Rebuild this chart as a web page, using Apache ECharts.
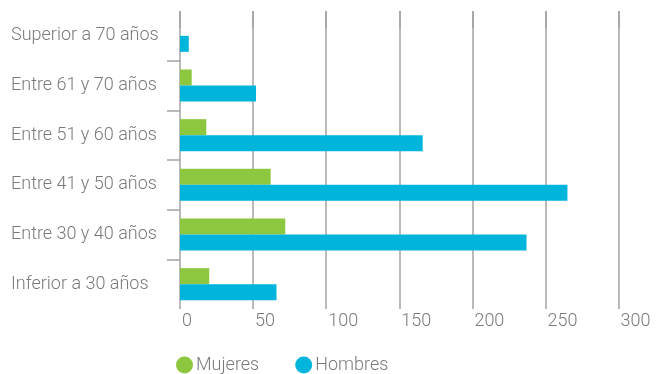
<!DOCTYPE html>
<html>
<head>
<meta charset="utf-8">
<script src="https://cdn.jsdelivr.net/npm/echarts@6/dist/echarts.min.js"></script>
<style>
  html, body { margin: 0; padding: 0; background: #fff; }
  #chart { width: 657px; height: 374px; }
</style>
</head>
<body>
<div id="chart"></div>
<script>
// Age bands, top to bottom
const categories = [
  'Superior a 70 años',
  'Entre 61 y 70 años',
  'Entre 51 y 60 años',
  'Entre 41 y 50 años',
  'Entre 30 y 40 años',
  'Inferior a 30 años'
];
const mujeres = [0, 8, 18, 62, 72, 20];
const hombres = [6, 52, 166, 265, 237, 66];
const xTicks = [0, 50, 100, 150, 200, 250, 300];
const seriesNames = ['Mujeres', 'Hombres'];
// separators between age bands (band edges, in band units)
const bandEdges = [1, 2, 3, 4, 5];

const FONT = 'Roboto, "Liberation Sans", sans-serif';
const FW = 300;
const FS = 18;
const TEXT = '#7a7a7a';
const LINE = '#a3a3a3';

const chart = echarts.init(document.getElementById('chart'), null, { renderer: 'canvas' });
chart.setOption({
  animation: false,
  textStyle: { fontFamily: FONT, fontWeight: FW },
  color: ['#8dc63f', '#00b5dc'],
  grid: { left: 180, right: 38.4, top: 11, bottom: 65, containLabel: false },
  legend: {
    data: seriesNames,
    left: 176,
    top: 356,
    icon: 'circle',
    itemWidth: 17,
    itemHeight: 17,
    itemGap: 36,
    padding: 0,
    textStyle: { fontFamily: FONT, fontWeight: FW, fontSize: FS, color: TEXT, padding: [0, 0, 0, -2] }
  },
  xAxis: {
    type: 'value',
    min: xTicks[0],
    max: xTicks[xTicks.length - 1],
    interval: xTicks[1] - xTicks[0],
    axisLine: { show: false },
    axisTick: { show: true, length: 17, lineStyle: { color: LINE, width: 1.5 } },
    splitLine: { show: true, lineStyle: { color: LINE, width: 1.5 } },
    axisLabel: {
      align: 'left',
      margin: 3,
      padding: [0, 0, 0, 2],
      fontFamily: FONT,
      fontWeight: FW,
      fontSize: FS,
      color: TEXT
    }
  },
  yAxis: [
    {
      type: 'category',
      data: categories,
      inverse: true,
      axisLine: { show: false },
      axisTick: { show: false },
      splitLine: { show: false },
      axisLabel: {
        align: 'left',
        margin: 169,
        fontFamily: FONT,
        fontWeight: FW,
        fontSize: FS,
        color: TEXT
      }
    },
    {
      type: 'value',
      position: 'left',
      inverse: true,
      min: 0,
      max: categories.length,
      interval: 1,
      axisLine: { show: false },
      axisLabel: { show: false },
      splitLine: { show: false },
      axisTick: {
        show: true,
        length: 13,
        customValues: bandEdges,
        lineStyle: { color: LINE, width: 1.5 }
      }
    }
  ],
  series: [
    {
      name: seriesNames[0],
      type: 'bar',
      yAxisIndex: 0,
      data: mujeres,
      barWidth: 16,
      barGap: '0%'
    },
    {
      name: seriesNames[1],
      type: 'bar',
      yAxisIndex: 0,
      data: hombres,
      barWidth: 16,
      barGap: '0%'
    }
  ]
});
</script>
</body>
</html>
